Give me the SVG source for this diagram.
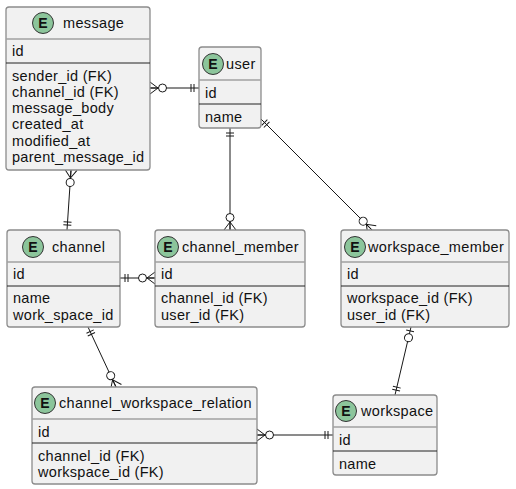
<svg xmlns="http://www.w3.org/2000/svg" width="516" height="489" viewBox="0 0 516 489">
  <style>
    .box { fill: #F1F1F1; stroke: #8C8C8C; stroke-width: 1.3; }
    .hdr { stroke: #A0A0A0; stroke-width: 1.3; }
    .sep { stroke: #222222; stroke-width: 1; }
    .spot { fill: #8CC59B; stroke: #333333; stroke-width: 1; }
    .spot-t { font-family: "Liberation Sans", Arial, sans-serif; font-size: 14px; font-weight: bold; fill: #111; text-anchor: middle; }
    .title { font-family: "Liberation Sans", Arial, sans-serif; font-size: 14.5px; letter-spacing: 0.35px; fill: #111; }
    .fld { font-family: "Liberation Sans", Arial, sans-serif; font-size: 14.5px; letter-spacing: 0.3px; fill: #111; }
    .rel { fill: none; stroke: #181818; stroke-width: 1; }
    .mk { fill: none; stroke: #181818; stroke-width: 1; }
  </style>
  <defs>
    <!-- zero or many: circle + crow's foot, x=0 is the entity edge -->
    <marker id="zeroMany" markerUnits="userSpaceOnUse" viewBox="-20 -8 22 16" refX="0" refY="0" markerWidth="22" markerHeight="16" orient="auto-start-reverse" overflow="visible">
      <path class="mk" d="M0,-6 L-8,0 L0,6 M-8,0 L0,0"/>
      <circle cx="-12.5" cy="0" r="4" fill="#FFFFFF" stroke="#181818" stroke-width="1"/>
    </marker>
    <!-- exactly one: two bars -->
    <marker id="oneOne" markerUnits="userSpaceOnUse" viewBox="-12 -6 14 12" refX="0" refY="0" markerWidth="14" markerHeight="12" orient="auto-start-reverse" overflow="visible">
      <path class="mk" d="M-5,-4 L-5,4 M-8,-4 L-8,4"/>
    </marker>
    <!-- zero or one: bar + circle -->
    <marker id="zeroOne" markerUnits="userSpaceOnUse" viewBox="-18 -6 20 12" refX="0" refY="0" markerWidth="20" markerHeight="12" orient="auto-start-reverse" overflow="visible">
      <path class="mk" d="M-4,-4 L-4,4"/>
      <circle cx="-11" cy="0" r="4" fill="#FFFFFF" stroke="#181818" stroke-width="1"/>
    </marker>
  </defs>

  <rect width="516" height="489" fill="#FFFFFF"/>

  <g id="connectors">
    <path class="rel" d="M150,88 L199,88" marker-start="url(#zeroMany)" marker-end="url(#oneOne)"/>
    <path class="rel" d="M230,128 L230,230" marker-start="url(#oneOne)" marker-end="url(#zeroMany)"/>
    <path class="rel" d="M261,119 L372,230" marker-start="url(#oneOne)" marker-end="url(#zeroMany)"/>
    <path class="rel" d="M71,170 L67,230" marker-start="url(#zeroMany)" marker-end="url(#oneOne)"/>
    <path class="rel" d="M120,278 L155,278" marker-start="url(#oneOne)" marker-end="url(#zeroMany)"/>
    <path class="rel" d="M88,327 L116,387" marker-start="url(#oneOne)" marker-end="url(#zeroMany)"/>
    <path class="rel" d="M411,327 L395,395" marker-start="url(#zeroOne)" marker-end="url(#oneOne)"/>
    <path class="rel" d="M257,435 L333,435" marker-start="url(#zeroMany)" marker-end="url(#oneOne)"/>
  </g>

  <g id="message">
    <rect class="box" x="6" y="7" width="144" height="163" rx="3"/>
    <line class="hdr" x1="6" y1="39" x2="150" y2="39"/>
    <line class="sep" x1="6" y1="63" x2="150" y2="63"/>
    <circle class="spot" cx="43" cy="23" r="10.5"/>
    <text class="spot-t" x="43" y="28">E</text>
    <text class="title" x="63" y="28">message</text>
    <text class="fld" x="12" y="56">id</text>
    <text class="fld" x="12" y="80.5">sender_id (FK)</text>
    <text class="fld" x="12" y="96.8">channel_id (FK)</text>
    <text class="fld" x="12" y="113.1">message_body</text>
    <text class="fld" x="12" y="129.4">created_at</text>
    <text class="fld" x="12" y="145.7">modified_at</text>
    <text class="fld" x="12" y="162">parent_message_id</text>
  </g>

  <g id="user">
    <rect class="box" x="199" y="47" width="62" height="81" rx="3"/>
    <line class="hdr" x1="199" y1="80" x2="261" y2="80"/>
    <line class="sep" x1="199" y1="104" x2="261" y2="104"/>
    <circle class="spot" cx="213" cy="64" r="10.5"/>
    <text class="spot-t" x="213" y="69">E</text>
    <text class="title" x="226" y="69">user</text>
    <text class="fld" x="205" y="98">id</text>
    <text class="fld" x="205" y="122">name</text>
  </g>

  <g id="channel">
    <rect class="box" x="7" y="230" width="113" height="97" rx="3"/>
    <line class="hdr" x1="7" y1="262" x2="120" y2="262"/>
    <line class="sep" x1="7" y1="286" x2="120" y2="286"/>
    <circle class="spot" cx="33" cy="247" r="10.5"/>
    <text class="spot-t" x="33" y="252">E</text>
    <text class="title" x="52" y="252">channel</text>
    <text class="fld" x="13" y="279">id</text>
    <text class="fld" x="13" y="303">name</text>
    <text class="fld" x="13" y="319.5">work_space_id</text>
  </g>

  <g id="channel_member">
    <rect class="box" x="155" y="230" width="150" height="97" rx="3"/>
    <line class="hdr" x1="155" y1="262" x2="305" y2="262"/>
    <line class="sep" x1="155" y1="286" x2="305" y2="286"/>
    <circle class="spot" cx="168" cy="247" r="10.5"/>
    <text class="spot-t" x="168" y="252">E</text>
    <text class="title" x="182" y="252">channel_member</text>
    <text class="fld" x="161" y="279">id</text>
    <text class="fld" x="161" y="303">channel_id (FK)</text>
    <text class="fld" x="161" y="319.5">user_id (FK)</text>
  </g>

  <g id="workspace_member">
    <rect class="box" x="341" y="230" width="168" height="97" rx="3"/>
    <line class="hdr" x1="341" y1="262" x2="509" y2="262"/>
    <line class="sep" x1="341" y1="286" x2="509" y2="286"/>
    <circle class="spot" cx="355" cy="247" r="10.5"/>
    <text class="spot-t" x="355" y="252">E</text>
    <text class="title" x="368" y="252">workspace_member</text>
    <text class="fld" x="347" y="279">id</text>
    <text class="fld" x="347" y="303">workspace_id (FK)</text>
    <text class="fld" x="347" y="319.5">user_id (FK)</text>
  </g>

  <g id="channel_workspace_relation">
    <rect class="box" x="32" y="387" width="225" height="97" rx="3"/>
    <line class="hdr" x1="32" y1="419" x2="257" y2="419"/>
    <line class="sep" x1="32" y1="443" x2="257" y2="443"/>
    <circle class="spot" cx="45" cy="403" r="10.5"/>
    <text class="spot-t" x="45" y="408">E</text>
    <text class="title" x="59" y="408">channel_workspace_relation</text>
    <text class="fld" x="38" y="437">id</text>
    <text class="fld" x="38" y="460.5">channel_id (FK)</text>
    <text class="fld" x="38" y="477">workspace_id (FK)</text>
  </g>

  <g id="workspace">
    <rect class="box" x="333" y="395" width="104" height="80" rx="3"/>
    <line class="hdr" x1="333" y1="427" x2="437" y2="427"/>
    <line class="sep" x1="333" y1="451" x2="437" y2="451"/>
    <circle class="spot" cx="346" cy="411" r="10.5"/>
    <text class="spot-t" x="346" y="416">E</text>
    <text class="title" x="361" y="416">workspace</text>
    <text class="fld" x="339" y="445">id</text>
    <text class="fld" x="339" y="469">name</text>
  </g>
</svg>
